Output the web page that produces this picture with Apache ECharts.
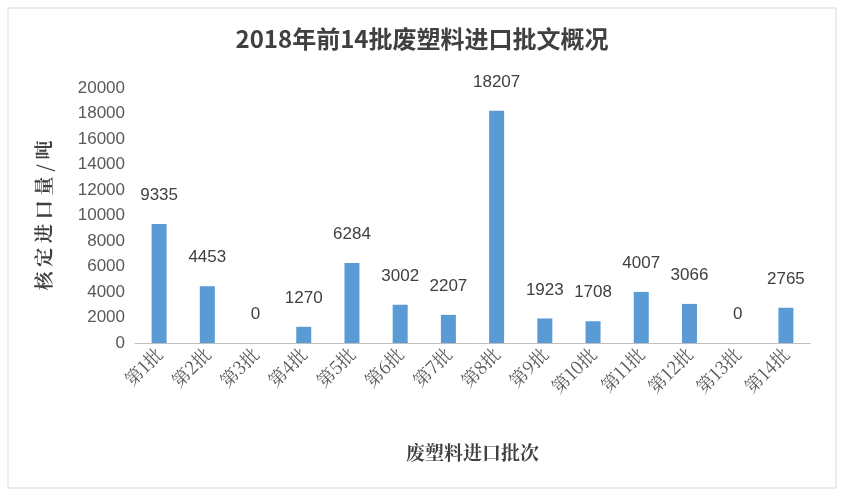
<!DOCTYPE html>
<html><head><meta charset="utf-8">
<script src="https://cdn.jsdelivr.net/npm/echarts@6/dist/echarts.min.js"></script>
<style>html,body{margin:0;padding:0;background:#fff}#c{width:844px;height:495px}</style>
</head><body><div id="c"></div>
<script>
const categories=['第1批','第2批','第3批','第4批','第5批','第6批','第7批','第8批','第9批','第10批','第11批','第12批','第13批','第14批'];
const values=[9335,4453,0,1270,6284,3002,2207,18207,1923,1708,4007,3066,0,2765];
const yTicks=[0,2000,4000,6000,8000,10000,12000,14000,16000,18000,20000];
const chart=echarts.init(document.getElementById('c'));
chart.setOption({
  backgroundColor:'#fff',
  animation:false,
  graphic:[{type:'rect',shape:{x:8,y:8,width:828,height:480},style:{fill:'none',stroke:'#d9d9d9',lineWidth:1}}],
  title:{text:'2018年前14批废塑料进口批文概况',left:'center',top:22,textStyle:{fontSize:24,fontWeight:'bold',color:'#404040',fontFamily:'Noto Sans CJK SC'}},
  grid:{left:135,right:34,top:88,bottom:152},
  xAxis:{type:'category',data:categories,name:'废塑料进口批次',nameLocation:'middle',nameGap:100,
    nameTextStyle:{fontSize:19,fontWeight:'bold',color:'#404040',fontFamily:'Noto Serif CJK SC, serif'},
    axisLine:{lineStyle:{color:'#bfbfbf'}},axisTick:{show:false},
    axisLabel:{rotate:45,fontSize:18,color:'#595959',fontFamily:'Noto Serif CJK SC, serif',interval:0}},
  yAxis:{type:'value',min:yTicks[0],max:yTicks[yTicks.length-1],interval:2000,
    name:'核 定 进 口 量 / 吨',nameLocation:'middle',nameGap:82,
    nameTextStyle:{fontSize:19,fontWeight:'bold',color:'#404040',fontFamily:'Noto Serif CJK SC, serif'},
    axisLine:{show:false},axisTick:{show:false},splitLine:{show:false},
    axisLabel:{fontSize:17,color:'#595959',margin:10,formatter:v=>String(v)}},
  series:[{type:'bar',data:values,barWidth:15,itemStyle:{color:'#5B9BD5'},
    label:{show:true,position:'top',distance:20,fontSize:17,color:'#404040'}}]
});
</script></body></html>
